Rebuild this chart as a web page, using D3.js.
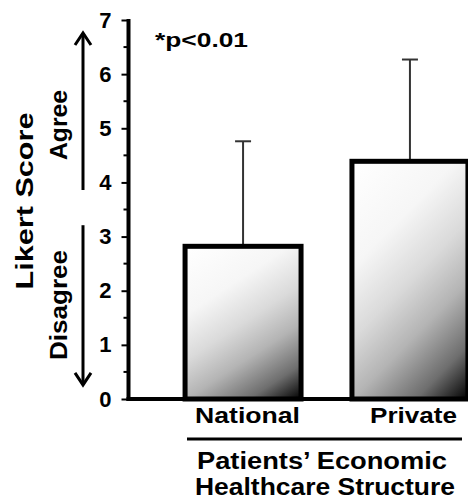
<!DOCTYPE html>
<html lang="en">
<head>
	<meta charset="UTF-8">
	<title>Likert Score</title>
	<style>
		body { margin: 0; background: #fff; }
		text { font-family: "Liberation Sans", Arial, sans-serif; font-weight: bold; fill: #000; }
	</style>
</head>
<body>
	<script src="https://cdn.jsdelivr.net/npm/d3@7/dist/d3.min.js"></script>

	<script type="text/javascript">

		// data
		var categories = ["National", "Private"];
		var means = [2.82, 4.39];
		var sds = [1.94, 1.88];
		var yTicks = [0, 1, 2, 3, 4, 5, 6, 7];

		var width = 468;
		var height = 499;

		var svg = d3.select("body")
					.append("svg")
					.attr("width", width)
					.attr("height", height);

		var axisX = 128.5;	// y axis position
		var y = d3.scaleLinear().domain([0, 7]).range([399, 20]);
		var x = d3.scaleBand()
				  .domain(categories)
				  .range([135, 518])
				  .paddingInner(0.305)
				  .paddingOuter(0.3);

		// gradient for the bars (light top-left, black bottom-right corner)
		var grad = svg.append("defs").append("linearGradient")
					  .attr("id", "barGrad")
					  .attr("x1", 0).attr("y1", 0)
					  .attr("x2", 0.6).attr("y2", 1.2);
		grad.append("stop").attr("offset", "0").attr("stop-color", "#ffffff");
		grad.append("stop").attr("offset", "0.3").attr("stop-color", "#f6f6f6");
		grad.append("stop").attr("offset", "0.5").attr("stop-color", "#dadada");
		grad.append("stop").attr("offset", "0.67").attr("stop-color", "#b4b4b4");
		grad.append("stop").attr("offset", "0.85").attr("stop-color", "#6e6e6e");
		grad.append("stop").attr("offset", "1").attr("stop-color", "#000000");

		// error bars (drawn first, bars cover the lower part)
		var err = svg.selectAll(".err")
					 .data(categories)
					 .enter()
					 .append("g")
					 .attr("class", "err");
		err.append("line")
		   .attr("x1", function(d) { return x(d) + x.bandwidth() / 2; })
		   .attr("x2", function(d) { return x(d) + x.bandwidth() / 2; })
		   .attr("y1", function(d, i) { return y(means[i]); })
		   .attr("y2", function(d, i) { return y(means[i] + sds[i]); })
		   .attr("stroke", "#333")
		   .attr("stroke-width", 2);
		err.append("line")
		   .attr("x1", function(d) { return x(d) + x.bandwidth() / 2 - 8; })
		   .attr("x2", function(d) { return x(d) + x.bandwidth() / 2 + 8; })
		   .attr("y1", function(d, i) { return y(means[i] + sds[i]); })
		   .attr("y2", function(d, i) { return y(means[i] + sds[i]); })
		   .attr("stroke", "#333")
		   .attr("stroke-width", 2);

		// bars
		svg.selectAll(".bar")
		   .data(categories)
		   .enter()
		   .append("rect")
		   .attr("class", "bar")
		   .attr("x", function(d) { return x(d); })
		   .attr("y", function(d, i) { return y(means[i]); })
		   .attr("width", x.bandwidth())
		   .attr("height", function(d, i) { return y(0) - y(means[i]); })
		   .attr("fill", "url(#barGrad)")
		   .attr("stroke", "#000")
		   .attr("stroke-width", 5);

		// y axis
		var yAxis = d3.axisLeft(y)
					  .tickValues(yTicks)
					  .tickSize(7)
					  .tickPadding(8)
					  .tickFormat(d3.format("d"));
		var gy = svg.append("g")
					.attr("transform", "translate(" + axisX + ",0)")
					.call(yAxis);
		gy.select(".domain").remove();
		gy.selectAll(".tick line").attr("stroke", "#000").attr("stroke-width", 2);
		gy.selectAll(".tick text")
		  .attr("font-size", 22)
		  .attr("font-family", "Liberation Sans, Arial, sans-serif")
		  .attr("font-weight", "bold")
		  .attr("fill", "#000")
		  .attr("dx", -2);

		// minor ticks
		svg.selectAll(".minor")
		   .data(d3.range(0.5, 7, 1))
		   .enter()
		   .append("line")
		   .attr("x1", axisX - 5)
		   .attr("x2", axisX)
		   .attr("y1", function(d) { return y(d); })
		   .attr("y2", function(d) { return y(d); })
		   .attr("stroke", "#000")
		   .attr("stroke-width", 2);

		// axis lines
		svg.append("line")
		   .attr("x1", axisX).attr("x2", axisX)
		   .attr("y1", y(7) - 1).attr("y2", y(0) + 2)
		   .attr("stroke", "#000").attr("stroke-width", 4);
		svg.append("line")
		   .attr("x1", axisX - 2).attr("x2", width)
		   .attr("y1", y(0)).attr("y2", y(0))
		   .attr("stroke", "#000").attr("stroke-width", 4);

		// category labels
		svg.selectAll(".cat")
		   .data(categories)
		   .enter()
		   .append("text")
		   .attr("class", "cat")
		   .attr("x", function(d, i) { return i == 0 ? 247.5 : 413.5; })
		   .attr("y", 423)
		   .attr("text-anchor", "middle")
		   .attr("font-size", 22)
		   .attr("textLength", function(d, i) { return i == 0 ? 105 : 87; })
		   .attr("lengthAdjust", "spacingAndGlyphs")
		   .text(function(d) { return d; });

		// group line and title
		svg.append("line")
		   .attr("x1", 187).attr("x2", 462)
		   .attr("y1", 439).attr("y2", 439)
		   .attr("stroke", "#000").attr("stroke-width", 3);
		svg.append("text")
		   .attr("x", 322).attr("y", 469)
		   .attr("text-anchor", "middle")
		   .attr("font-size", 23)
		   .attr("textLength", 250)
		   .attr("lengthAdjust", "spacingAndGlyphs")
		   .text("Patients\u2019 Economic");
		svg.append("text")
		   .attr("x", 325).attr("y", 495)
		   .attr("text-anchor", "middle")
		   .attr("font-size", 23)
		   .attr("textLength", 260)
		   .attr("lengthAdjust", "spacingAndGlyphs")
		   .text("Healthcare Structure");

		// significance note
		svg.append("text")
		   .attr("x", 155).attr("y", 47)
		   .attr("font-size", 21)
		   .attr("textLength", 93)
		   .attr("lengthAdjust", "spacingAndGlyphs")
		   .text("*p<0.01");

		// y title
		svg.append("text")
		   .attr("transform", "translate(33,201) rotate(-90)")
		   .attr("text-anchor", "middle")
		   .attr("font-size", 24)
		   .attr("textLength", 177)
		   .attr("lengthAdjust", "spacingAndGlyphs")
		   .text("Likert Score");
		svg.append("text")
		   .attr("transform", "translate(67,125) rotate(-90)")
		   .attr("text-anchor", "middle")
		   .attr("font-size", 23)
		   .attr("textLength", 70)
		   .attr("lengthAdjust", "spacingAndGlyphs")
		   .text("Agree");
		svg.append("text")
		   .attr("transform", "translate(67,305) rotate(-90)")
		   .attr("text-anchor", "middle")
		   .attr("font-size", 23)
		   .attr("textLength", 110)
		   .attr("lengthAdjust", "spacingAndGlyphs")
		   .text("Disagree");

		// arrows
		var arrowX = 83;
		function arrow(from, to) {
			var dir = to > from ? 1 : -1;
			svg.append("line")
			   .attr("x1", arrowX).attr("x2", arrowX)
			   .attr("y1", y(from)).attr("y2", y(to))
			   .attr("stroke", "#000").attr("stroke-width", 3);
			svg.append("path")
			   .attr("d", "M" + (arrowX - 8) + "," + (y(to) + dir * 12) +
						  "L" + arrowX + "," + y(to) +
						  "L" + (arrowX + 8) + "," + (y(to) + dir * 12))
			   .attr("fill", "none")
			   .attr("stroke", "#000")
			   .attr("stroke-width", 3);
		}
		arrow(3.86, 6.76);
		arrow(3.21, 0.26);

	</script>
</body>
</html>
